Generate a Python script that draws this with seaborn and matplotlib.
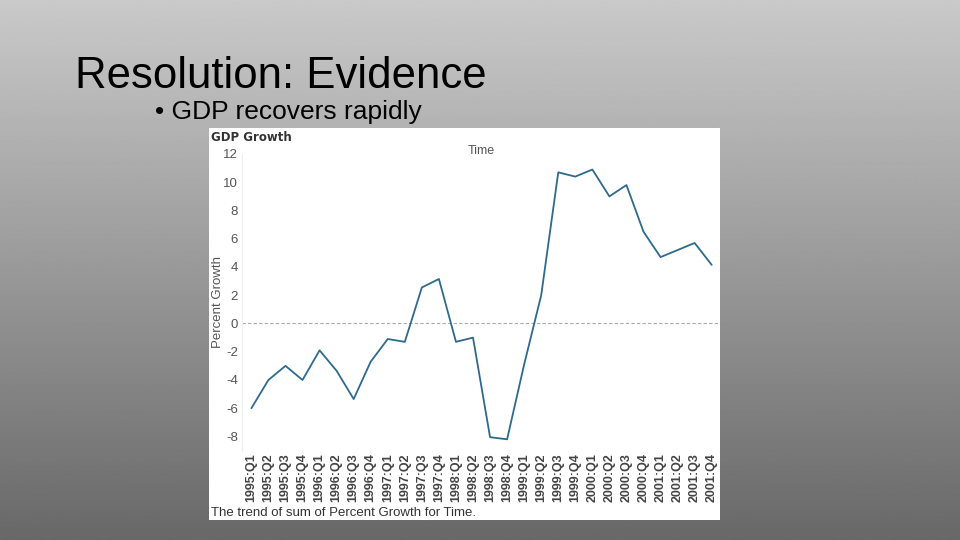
import numpy as np
import pandas as pd
import seaborn as sns
import matplotlib.pyplot as plt
from matplotlib.patches import Rectangle

# data
quarters = [f"{y}:Q{q}" for y in range(1995, 2002) for q in range(1, 5)]
growth = [-6.0, -4.0, -3.0, -4.0, -1.9, -3.35, -5.35, -2.7,
          -1.1, -1.3, 2.55, 3.15, -1.3, -1.0, -8.05, -8.2,
          -2.9, 2.0, 10.7, 10.4, 10.9, 9.0, 9.8, 6.5,
          4.7, 5.2, 5.7, 4.15]
yticks = [-8, -6, -4, -2, 0, 2, 4, 6, 8, 10, 12]

df = pd.DataFrame({"Time": quarters, "Percent Growth": growth})
df["pos"] = np.arange(len(df))

sns.set_theme(style="white")
plt.rcParams["font.family"] = ["Liberation Sans", "DejaVu Sans"]

fig = plt.figure(figsize=(9.6, 5.4), dpi=100)

# slide background: vertical grey gradient
bg = fig.add_axes([0, 0, 1, 1], zorder=0)
grad = np.linspace(0.79, 0.41, 256).reshape(-1, 1)
bg.imshow(grad, aspect="auto", cmap="gray", vmin=0, vmax=1, extent=[0, 1, 0, 1])
bg.set_axis_off()

# white image panel
W, H = 960, 540
fig.patches.append(Rectangle((209 / W, 1 - 520 / H), 511 / W, 392 / H,
                             transform=fig.transFigure, facecolor="white",
                             edgecolor="none", zorder=1))

fig.text(75 / W, 1 - 88 / H, "Resolution: Evidence", fontsize=31.5, color="black")
fig.text(155 / W, 1 - 119 / H, "\u2022 GDP recovers rapidly", fontsize=19, color="black")

ax = fig.add_axes([242 / W, 1 - 450.6 / H, 476 / W, 296.6 / H], zorder=2)
ax.set_facecolor("none")
sns.lineplot(data=df, x="pos", y="Percent Growth", ax=ax, color="#2e6a8c", linewidth=1.3)
ax.axhline(0, color="#aaaaaa", linestyle=(0, (3, 2)), linewidth=0.8, zorder=0)

ax.set_xlim(-0.55, 27.37)
ax.set_ylim(-9.0, 12.0)
ax.set_yticks(yticks)
ax.set_yticklabels([str(t) for t in yticks], fontsize=9.5, color="#555555")
ax.set_xticks(df["pos"])
ax.set_xticklabels(quarters, rotation=90, fontsize=9, fontweight="bold", color="#444444")
ax.tick_params(axis="y", length=0, pad=3)
ax.tick_params(axis="x", length=0, pad=2)
ax.set_xlabel("")
ax.set_ylabel("Percent Growth", fontsize=9.5, color="#555555")
ax.yaxis.set_label_coords((224 - 242) / 476, 0.5)
for s in ["top", "right", "bottom"]:
    ax.spines[s].set_visible(False)
ax.spines["left"].set_color("#eeeeee")
ax.spines["left"].set_linewidth(0.8)

fig.text(211 / W, 1 - 137 / H, "GDP Growth", fontsize=8.5, fontweight="bold",
         color="#333333", va="center", zorder=3, family=["DejaVu Sans"])
fig.text(481 / W, 1 - 151 / H, "Time", fontsize=9, color="#555555",
         ha="center", va="center", zorder=3)
fig.text(211 / W, 1 - 513 / H, "The trend of sum of Percent Growth for Time.",
         fontsize=9.5, color="#333333", va="center", zorder=3)

fig.savefig("out.png", dpi=100)
